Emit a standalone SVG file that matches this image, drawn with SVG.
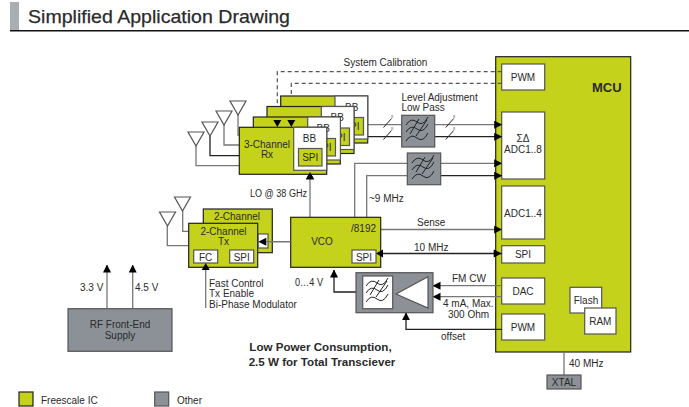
<svg xmlns="http://www.w3.org/2000/svg" width="689" height="407" viewBox="0 0 689 407">
<style>
text{font-family:"Liberation Sans",Arial,sans-serif;font-size:10px;fill:#2a2a2a}
.m{text-anchor:middle}
.b{font-size:11.6px;font-weight:bold}
.g{fill:#c4d21c;stroke:#222;stroke-width:1.2}
.w{fill:#fff;stroke:#555;stroke-width:1.2}
.i{fill:#c4d21c;stroke:#555;stroke-width:1.2}
.s{fill:#8b9196;stroke:#555;stroke-width:1.2}
.l{fill:none;stroke:#777;stroke-width:1.3}
.k{fill:none;stroke:#222;stroke-width:1.3}
.d{fill:none;stroke:#555;stroke-width:1.2;stroke-dasharray:4 3}
.a{fill:#fff;stroke:#555;stroke-width:1.2}
.f{fill:none;stroke:#222;stroke-width:1}
.t{font-size:4px;fill:#666}
</style>
<defs>
<marker id="ah" markerUnits="userSpaceOnUse" markerWidth="8" markerHeight="9" refX="7.5" refY="4" orient="auto"><path d="M0 0L8 4L0 8Z" fill="#000"/></marker>
<g id="curves"><path class="f" d="M-12 -6q5 -8 11 -3t11 -5M-12 1q5 -8 11 -3t11 -5M-12 10q5 -8 11 -3t11 -5M1 -12L-8 3M9 -11L-2 5"/></g>
<g id="ant"><path class="a" d="M-8 0H8L0 14Z"/></g>
</defs>

<g id="header">
<rect x="10" y="2" width="9" height="29" fill="#a8afb4"/>
<rect x="10" y="30" width="679" height="1.5" fill="#111"/>
<text x="28" y="23" style="font-size:19px;stroke:#2a2a2a;stroke-width:.25" textLength="262" lengthAdjust="spacingAndGlyphs">Simplified Application Drawing</text>
</g>

<g id="mcu">
<rect class="g" x="495.7" y="56.7" width="135" height="295.3"/>
<text x="592" y="92" style="font-size:13px;font-weight:bold">MCU</text>
<rect class="w" x="501.7" y="64" width="43" height="26"/><text x="523" y="80.5" class="m">PWM</text>
<rect class="w" x="501.7" y="112" width="43" height="67"/><text x="523" y="142" class="m">ΣΔ</text><text x="523" y="153" class="m">ADC1..8</text>
<rect class="w" x="501.7" y="186" width="43" height="53"/><text x="523" y="217" class="m">ADC1..4</text>
<rect class="w" x="501.7" y="245.7" width="43" height="17.3"/><text x="523" y="258" class="m">SPI</text>
<rect class="w" x="501.7" y="278" width="43" height="26"/><text x="523" y="295" class="m">DAC</text>
<rect class="w" x="501.7" y="314" width="43" height="26"/><text x="523" y="330.5" class="m">PWM</text>
<rect class="w" x="570" y="287.3" width="31.7" height="25.7"/><text x="586" y="304" class="m">Flash</text>
<rect class="w" x="584.7" y="308" width="31.3" height="26"/><text x="600.3" y="325" class="m">RAM</text>
</g>

<g id="connectors">
<path class="d" d="M501.7 71.7H277.3V127"/>
<path class="d" d="M501.7 83.3H291.3V127"/>
<path class="l" d="M196 146V165.7H239.3"/>
<path class="k" d="M210 136V155.7H239.3"/>
<path class="l" d="M224 125V145H239.3"/>
<path class="l" d="M238 115V135H280"/>
<path class="l" d="M367 124.7H401.7"/>
<path class="k" d="M367 136.7H401.7"/>
<path class="l" d="M434.7 124.7H501.7" marker-end="url(#ah)"/>
<path class="k" d="M434.7 136.7H501.7" marker-end="url(#ah)"/>
<path class="l" d="M354.7 217.3V163.3H407.3"/>
<path class="l" d="M366.7 217.3V175.7H407.3"/>
<path class="l" d="M440.7 163.3H501.7" marker-end="url(#ah)"/>
<path class="k" d="M440.7 175.7H501.7" marker-end="url(#ah)"/>
<path class="l" d="M310 217.3V172" marker-end="url(#ah)"/>
<path class="l" d="M380.7 229.5H501.7" marker-end="url(#ah)"/>
<path class="k" d="M501.7 253.5H376"/>
<path d="M493.7 249.5L501.7 253.5L493.7 257.5Z" fill="#000"/>
<path class="l" d="M290.7 241.7H258.3"/>
<path class="l" d="M167.3 226V245.7H188.7"/>
<path class="l" d="M182.7 211V231.3H188.7"/>
<path class="l" d="M205.7 308V263"/>
<path class="l" d="M501.7 285.7H433" marker-end="url(#ah)"/>
<path class="l" d="M501.7 296.7H433" marker-end="url(#ah)"/>
<path class="k" d="M501.7 329.3H406V312.7" marker-end="url(#ah)"/>
<path class="k" d="M356 292H334V270" marker-end="url(#ah)"/>
<path class="l" d="M564 352V375"/>
<path class="l" d="M107 308.7V265" marker-end="url(#ah)"/>
<path class="l" d="M132.7 308.7V265" marker-end="url(#ah)"/>
<path class="f" d="M383.5 127.5l8 -9M383.5 139.5l8 -9M445.7 127.5l8 -9M445.7 139.5l8 -9"/>
<text class="t" x="391" y="118">8</text><text class="t" x="391" y="130">8</text><text class="t" x="453" y="118">8</text><text class="t" x="453" y="130">8</text>
</g>

<g id="ant1"><use href="#ant" x="196" y="132"/></g>
<g id="ant2"><use href="#ant" x="210" y="122"/></g>
<g id="ant3"><use href="#ant" x="224" y="111"/></g>
<g id="ant4"><use href="#ant" x="238" y="101"/></g>
<g id="ant5"><use href="#ant" x="167.5" y="212"/></g>
<g id="ant6"><use href="#ant" x="182.5" y="197"/></g>

<g id="rx4">
<rect class="g" x="280.7" y="96" width="87" height="47"/>
<rect class="w" x="335" y="96" width="32.7" height="43"/>
<text x="345" y="110.5">BB</text>
<rect class="i" x="340" y="117.5" width="23.5" height="17.5"/>
<text x="351.5" y="130" class="m">SPI</text>
</g>
<g id="rx3">
<rect class="g" x="267" y="106.5" width="87" height="47"/>
<rect class="w" x="321.3" y="106.5" width="32.7" height="43"/>
<text x="330.5" y="121">BB</text>
<rect class="i" x="326" y="128" width="23.5" height="17.5"/>
<text x="337.5" y="141" class="m">SPI</text>
</g>
<g id="rx2">
<rect class="g" x="253.3" y="117" width="87" height="47"/>
<rect class="w" x="307.7" y="117" width="32.7" height="43"/>
<text x="316.5" y="131.5">BB</text>
<rect class="i" x="312" y="138.5" width="23.5" height="17.5"/>
<text x="323.5" y="151" class="m">SPI</text>
</g>
<g id="rx1">
<rect class="g" x="239.3" y="127.3" width="87.4" height="47"/>
<rect class="w" x="293.7" y="127.3" width="33" height="43"/>
<text x="309.5" y="142" class="m">BB</text>
<rect class="i" x="298.5" y="148.5" width="23.5" height="17.5"/>
<text x="310.2" y="161" class="m">SPI</text>
<text x="267" y="147.5" class="m">3-Channel</text>
<text x="267" y="158" class="m">Rx</text>
</g>
<path d="M277.3 127l-4-7h8ZM291.3 127l-4-7h8ZM310 172l-4 7h8Z" fill="#000"/>

<g id="filter1"><rect class="s" x="401.7" y="115.3" width="33" height="31.7"/><use href="#curves" x="418" y="131"/></g>
<g id="filter2"><rect class="s" x="407.3" y="153" width="33.4" height="31.7"/><use href="#curves" x="424" y="169"/></g>

<g id="tx2"><rect class="g" x="203.3" y="209" width="69" height="43.7"/><rect class="w" x="258" y="234" width="10" height="14"/><text x="237" y="220" class="m">2-Channel</text></g>
<g id="tx1">
<rect class="g" x="188.7" y="223.3" width="69" height="44"/>
<text x="223.5" y="235" class="m">2-Channel</text><text x="223.5" y="245" class="m">Tx</text>
<rect class="w" x="193.7" y="250" width="24" height="13"/><text x="205.7" y="260.5" class="m">FC</text>
<rect class="w" x="229.7" y="250" width="24" height="13"/><text x="241.7" y="260.5" class="m">SPI</text>
</g>

<g id="vco">
<rect class="g" x="290.7" y="217.3" width="90" height="50"/>
<text x="322" y="245" class="m">VCO</text>
<text x="351" y="231.5">/8192</text>
<rect class="w" x="352" y="250" width="24" height="13"/><text x="364" y="260.5" class="m">SPI</text>
</g>
<path d="M376 253.5l7-4v8ZM258.3 241.7l8-4v8Z" fill="#000"/>
<path class="l" d="M290.7 241.7H266"/>
<path d="M205.7 263l-4 7h8Z" fill="#000"/>

<g id="amp">
<rect class="s" x="356" y="272.7" width="77" height="40"/>
<rect class="w" x="362.7" y="276" width="30" height="32.7"/><use href="#curves" x="378" y="292"/>
<path class="a" d="M396 294L428 276.7V308Z"/>
</g>

<g id="xtal"><rect class="s" x="547" y="375" width="34" height="14"/><text x="564" y="386" class="m">XTAL</text></g>
<g id="supply"><rect class="s" x="68" y="308.7" width="104" height="42.6"/><text x="120" y="328" class="m">RF Front-End</text><text x="120" y="338.5" class="m">Supply</text></g>

<g id="labels">
<text x="343.5" y="66">System Calibration</text>
<text x="401.5" y="101">Level Adjustment</text><text x="401.5" y="111">Low Pass</text>
<text x="250" y="197" textLength="57" lengthAdjust="spacingAndGlyphs">LO @ 38 GHz</text>
<text x="369" y="202">~9 MHz</text>
<text x="417" y="226">Sense</text>
<text x="414" y="251">10 MHz</text>
<text x="295" y="286" textLength="28" lengthAdjust="spacingAndGlyphs">0…4 V</text>
<text x="452" y="282">FM CW</text>
<text x="443" y="307">4 mA, Max.</text><text x="448" y="318">300 Ohm</text>
<text x="441" y="340">offset</text>
<text x="209" y="287">Fast Control</text><text x="209" y="297">Tx Enable</text><text x="209" y="308">Bi-Phase Modulator</text>
<text x="80" y="291">3.3 V</text><text x="135" y="291">4.5 V</text>
<text x="569" y="367">40 MHz</text>
<text x="320.5" y="351" class="m b">Low Power Consumption,</text>
<text x="322" y="366" class="m b">2.5 W for Total Transciever</text>
</g>
<g id="legend">
<rect class="g" x="19" y="392" width="14" height="14"/><text x="41" y="404">Freescale IC</text>
<rect class="s" x="154.7" y="392" width="14" height="14"/><text x="177" y="404">Other</text>
</g>
</svg>
